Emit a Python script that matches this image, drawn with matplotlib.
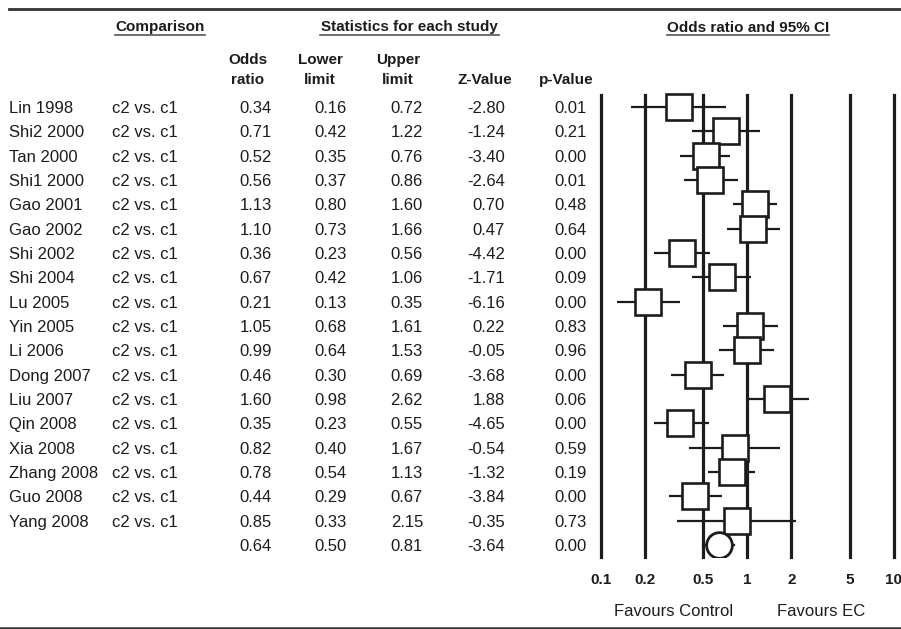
import matplotlib
matplotlib.use("Agg")
import matplotlib.pyplot as plt
import matplotlib.transforms as mtransforms
from matplotlib.lines import Line2D

plt.rcParams['font.family'] = ['Liberation Sans', 'DejaVu Sans']

# ---------------- data ----------------
studies = ["Lin 1998", "Shi2 2000", "Tan 2000", "Shi1 2000", "Gao 2001", "Gao 2002",
           "Shi 2002", "Shi 2004", "Lu 2005", "Yin 2005", "Li 2006", "Dong 2007",
           "Liu 2007", "Qin 2008", "Xia 2008", "Zhang 2008", "Guo 2008", "Yang 2008"]
comparison = ["c2 vs. c1"] * len(studies)
odds_ratio = [0.34, 0.71, 0.52, 0.56, 1.13, 1.10, 0.36, 0.67, 0.21, 1.05, 0.99, 0.46,
              1.60, 0.35, 0.82, 0.78, 0.44, 0.85]
lower_limit = [0.16, 0.42, 0.35, 0.37, 0.80, 0.73, 0.23, 0.42, 0.13, 0.68, 0.64, 0.30,
               0.98, 0.23, 0.40, 0.54, 0.29, 0.33]
upper_limit = [0.72, 1.22, 0.76, 0.86, 1.60, 1.66, 0.56, 1.06, 0.35, 1.61, 1.53, 0.69,
               2.62, 0.55, 1.67, 1.13, 0.67, 2.15]
z_value = [-2.80, -1.24, -3.40, -2.64, 0.70, 0.47, -4.42, -1.71, -6.16, 0.22, -0.05, -3.68,
           1.88, -4.65, -0.54, -1.32, -3.84, -0.35]
p_value = [0.01, 0.21, 0.00, 0.01, 0.48, 0.64, 0.00, 0.09, 0.00, 0.83, 0.96, 0.00,
           0.06, 0.00, 0.59, 0.19, 0.00, 0.73]
summary_or, summary_lo, summary_hi, summary_z, summary_p = 0.64, 0.50, 0.81, -3.64, 0.00
x_ticks = [0.1, 0.2, 0.5, 1, 2, 5, 10]
x_tick_labels = ["0.1", "0.2", "0.5", "1", "2", "5", "10"]

# ---------------- layout ----------------
W, H = 901, 629
DPI = 100
fig = plt.figure(figsize=(W / DPI, H / DPI), dpi=DPI)
fig.patch.set_facecolor("white")
INK = "#1c1c1c"

def fx(px):
    return px / W

def fy(px):
    return 1 - px / H

ax_l, ax_r, ax_t, ax_b = 600.7, 894.0, 95.0, 557.0
ax = fig.add_axes([fx(ax_l), fy(ax_b), (ax_r - ax_l) / W, (ax_b - ax_t) / H])
ax.set_xscale("log")
ax.set_xlim(0.1, 10)
n_rows = len(studies) + 1
ax.set_ylim(n_rows - 0.5, -0.5)
for s in ax.spines.values():
    s.set_visible(False)
ax.set_yticks([])
ax.set_xticks(x_ticks)
ax.set_xticklabels(x_tick_labels, fontsize=11, fontweight="bold", color=INK)
ax.xaxis.set_minor_locator(matplotlib.ticker.NullLocator())
ax.tick_params(axis="x", length=0, pad=11.5)
ax.patch.set_alpha(0)

for v in x_ticks:
    ax.axvline(v, color=INK, lw=2.3, zorder=1, clip_on=False)

rows = list(range(len(studies)))
for i in rows:
    ax.plot([lower_limit[i], upper_limit[i]], [i, i], color=INK, lw=1.6, zorder=2,
            solid_capstyle="butt")
ax.plot(odds_ratio, rows, linestyle="none", marker="s", markersize=18.5,
        markerfacecolor="white", markeredgecolor=INK, markeredgewidth=1.9, zorder=3,
        clip_on=False)
srow = len(studies)
ax.plot([summary_lo, summary_hi], [srow, srow], color=INK, lw=1.6, zorder=2)
ax.plot([summary_or], [srow], linestyle="none", marker="o", markersize=18.5,
        markerfacecolor="white", markeredgecolor=INK, markeredgewidth=2.0, zorder=3)

# favours labels
tr_fav = mtransforms.blended_transform_factory(ax.transData, fig.transFigure)
ax.text(0.316, fy(611), "Favours Control", transform=tr_fav, ha="center", va="center",
        fontsize=12, color=INK)
ax.text(3.16, fy(611), "Favours EC", transform=tr_fav, ha="center", va="center",
        fontsize=12, color=INK)

# ---------------- table text ----------------
row_tr = mtransforms.blended_transform_factory(fig.transFigure, ax.transData) + \
    mtransforms.ScaledTranslation(0, -6 / DPI, fig.dpi_scale_trans)

def rtext(xpx, row, s, ha="left"):
    fig.text(fx(xpx), row, s, transform=row_tr, ha=ha, va="baseline", fontsize=12,
             color=INK)

for i in rows:
    rtext(9, i, studies[i])
    rtext(112, i, comparison[i])
    rtext(272, i, f"{odds_ratio[i]:.2f}", ha="right")
    rtext(347, i, f"{lower_limit[i]:.2f}", ha="right")
    rtext(423, i, f"{upper_limit[i]:.2f}", ha="right")
    rtext(505, i, f"{z_value[i]:.2f}", ha="right")
    rtext(587, i, f"{p_value[i]:.2f}", ha="right")
rtext(272, srow, f"{summary_or:.2f}", ha="right")
rtext(347, srow, f"{summary_lo:.2f}", ha="right")
rtext(423, srow, f"{summary_hi:.2f}", ha="right")
rtext(505, srow, f"{summary_z:.2f}", ha="right")
rtext(587, srow, f"{summary_p:.2f}", ha="right")

# column headers
def htext(xpx, ypx, s, ha="center"):
    fig.text(fx(xpx), fy(ypx), s, ha=ha, va="baseline", fontsize=11,
             fontweight="bold", color=INK)

htext(248, 64, "Odds")
htext(248, 84, "ratio")
htext(320, 64, "Lower")
htext(320, 84, "limit")
htext(398, 64, "Upper")
htext(398, 84, "limit")
htext(485, 84, "Z-Value")
htext(566, 84, "p-Value")

# group headings (underlined)
def heading(xc, s, x0, x1):
    fig.text(fx(xc), fy(31.5), s, ha="center", va="baseline", fontsize=11,
             fontweight="bold", color=INK)
    fig.add_artist(Line2D([fx(x0), fx(x1)], [fy(34.5), fy(34.5)], color="#555555",
                          lw=1.2, transform=fig.transFigure))

heading(160, "Comparison", 115, 205)
heading(409.5, "Statistics for each study", 320, 499)
heading(748, "Odds ratio and 95% CI", 667, 829)

# rules
fig.add_artist(Line2D([fx(9), fx(901)], [fy(9), fy(9)], color="#333333", lw=2.0,
                      transform=fig.transFigure))
fig.add_artist(Line2D([fx(0), fx(901)], [fy(627.5), fy(627.5)], color="#333333", lw=1.8,
                      transform=fig.transFigure))

fig.savefig("out.png", dpi=DPI, facecolor="white")
